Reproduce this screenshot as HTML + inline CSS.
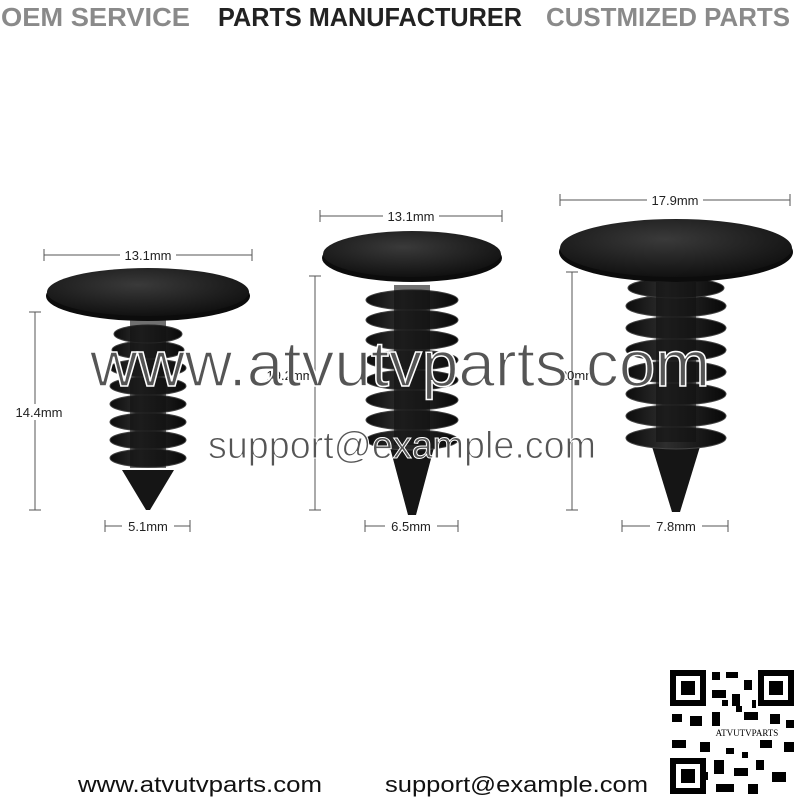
<!DOCTYPE html>
<html><head><meta charset="utf-8"><style>
html,body{margin:0;padding:0;background:#fff;}
svg{display:block;}
</style></head><body>
<svg width="800" height="800" viewBox="0 0 800 800" xmlns="http://www.w3.org/2000/svg" font-family="Liberation Sans, Arial, sans-serif">
<rect width="800" height="800" fill="#fff"/>
<text x="1" y="26" font-size="26" font-weight="bold" fill="#8a8a8a" textLength="189" lengthAdjust="spacingAndGlyphs">OEM SERVICE</text>
<text x="218" y="26" font-size="26" font-weight="bold" fill="#222" textLength="304" lengthAdjust="spacingAndGlyphs">PARTS MANUFACTURER</text>
<text x="546" y="26" font-size="26" font-weight="bold" fill="#8a8a8a" textLength="244" lengthAdjust="spacingAndGlyphs">CUSTMIZED PARTS</text>

<defs>
<radialGradient id="hg" cx="0.45" cy="0.35" r="0.7">
<stop offset="0" stop-color="#3a3a3a"/><stop offset="1" stop-color="#0e0e0e"/></radialGradient>
<linearGradient id="rg" x1="0" x2="1">
<stop offset="0" stop-color="#0c0c0c"/><stop offset="0.4" stop-color="#2e2e2e"/><stop offset="1" stop-color="#080808"/></linearGradient>
</defs>

<g stroke="#555" stroke-width="1" fill="none">
<line x1="44" y1="255" x2="252" y2="255"/><line x1="44" y1="249" x2="44" y2="261"/><line x1="252" y1="249" x2="252" y2="261"/>
<line x1="35" y1="312" x2="35" y2="510"/><line x1="29" y1="312" x2="41" y2="312"/><line x1="29" y1="510" x2="41" y2="510"/>
<line x1="105" y1="526" x2="190" y2="526"/><line x1="105" y1="520" x2="105" y2="532"/><line x1="190" y1="520" x2="190" y2="532"/>
<line x1="320" y1="216" x2="502" y2="216"/><line x1="320" y1="210" x2="320" y2="222"/><line x1="502" y1="210" x2="502" y2="222"/>
<line x1="315" y1="276" x2="315" y2="510"/><line x1="309" y1="276" x2="321" y2="276"/><line x1="309" y1="510" x2="321" y2="510"/>
<line x1="365" y1="526" x2="458" y2="526"/><line x1="365" y1="520" x2="365" y2="532"/><line x1="458" y1="520" x2="458" y2="532"/>
<line x1="560" y1="200" x2="790" y2="200"/><line x1="560" y1="194" x2="560" y2="206"/><line x1="790" y1="194" x2="790" y2="206"/>
<line x1="572" y1="272" x2="572" y2="510"/><line x1="566" y1="272" x2="578" y2="272"/><line x1="566" y1="510" x2="578" y2="510"/>
<line x1="622" y1="526" x2="728" y2="526"/><line x1="622" y1="520" x2="622" y2="532"/><line x1="728" y1="520" x2="728" y2="532"/>
</g>
<g font-size="13" fill="#222" text-anchor="middle">
<rect x="120" y="247" width="56" height="16" fill="#fff"/><text x="148" y="260">13.1mm</text>
<rect x="8" y="404" width="62" height="16" fill="#fff"/><text x="39" y="417">14.4mm</text>
<rect x="122" y="518" width="52" height="16" fill="#fff"/><text x="148" y="531">5.1mm</text>
<rect x="383" y="208" width="56" height="16" fill="#fff"/><text x="411" y="221">13.1mm</text>
<rect x="385" y="518" width="52" height="16" fill="#fff"/><text x="411" y="531">6.5mm</text>
<rect x="647" y="192" width="56" height="16" fill="#fff"/><text x="675" y="205">17.9mm</text>
<rect x="650" y="518" width="52" height="16" fill="#fff"/><text x="676" y="531">7.8mm</text>
</g>

<g>
<polygon points="122,470 174,470 150,510 146,510" fill="#151515"/>
<g fill="url(#rg)" stroke="#444" stroke-width="1">
<ellipse cx="148" cy="458" rx="38" ry="9"/><ellipse cx="148" cy="440" rx="38" ry="9"/>
<ellipse cx="148" cy="422" rx="38" ry="9"/><ellipse cx="148" cy="404" rx="38" ry="9"/>
<ellipse cx="148" cy="386" rx="38" ry="9"/><ellipse cx="148" cy="368" rx="38" ry="9"/>
<ellipse cx="148" cy="350" rx="36" ry="9"/><ellipse cx="148" cy="334" rx="34" ry="9"/>
</g>
<rect x="130" y="318" width="36" height="150" fill="#111" opacity="0.6"/>
<ellipse cx="148" cy="296" rx="102" ry="25" fill="#0c0c0c"/>
<ellipse cx="148" cy="292" rx="101" ry="24" fill="url(#hg)"/>
</g>
<g>
<polygon points="388,440 436,440 416,515 408,515" fill="#151515"/>
<g fill="url(#rg)" stroke="#444" stroke-width="1">
<ellipse cx="412" cy="440" rx="46" ry="10"/><ellipse cx="412" cy="420" rx="46" ry="10"/>
<ellipse cx="412" cy="400" rx="46" ry="10"/><ellipse cx="412" cy="380" rx="46" ry="10"/>
<ellipse cx="412" cy="360" rx="46" ry="10"/><ellipse cx="412" cy="340" rx="46" ry="10"/>
<ellipse cx="412" cy="320" rx="46" ry="10"/><ellipse cx="412" cy="300" rx="46" ry="10"/>
</g>
<rect x="394" y="285" width="36" height="160" fill="#111" opacity="0.6"/>
<ellipse cx="412" cy="258" rx="90" ry="24" fill="#0c0c0c"/>
<ellipse cx="412" cy="254" rx="89" ry="23" fill="url(#hg)"/>
</g>
<g>
<polygon points="650,440 702,440 680,512 672,512" fill="#151515"/>
<g fill="url(#rg)" stroke="#444" stroke-width="1">
<ellipse cx="676" cy="438" rx="50" ry="11"/><ellipse cx="676" cy="416" rx="50" ry="11"/>
<ellipse cx="676" cy="394" rx="50" ry="11"/><ellipse cx="676" cy="372" rx="50" ry="11"/>
<ellipse cx="676" cy="350" rx="50" ry="11"/><ellipse cx="676" cy="328" rx="50" ry="11"/>
<ellipse cx="676" cy="306" rx="50" ry="11"/><ellipse cx="676" cy="288" rx="48" ry="10"/>
</g>
<rect x="656" y="282" width="40" height="160" fill="#111" opacity="0.6"/>
<ellipse cx="676" cy="252" rx="117" ry="30" fill="#0c0c0c"/>
<ellipse cx="676" cy="248" rx="116" ry="29" fill="url(#hg)"/>
</g>

<g font-size="13" fill="#222" text-anchor="middle">
<text x="290" y="380">19.2mm</text>
<text x="578" y="380">20mm</text>
</g>
<text x="90" y="386" font-size="64" fill="#555" stroke="#fff" stroke-width="1.5" textLength="620" lengthAdjust="spacingAndGlyphs">www.atvutvparts.com</text>
<text x="208" y="458" font-size="38" fill="#555" stroke="#fff" stroke-width="1" textLength="388" lengthAdjust="spacingAndGlyphs">support@example.com</text>

<text x="78" y="792" font-size="22" fill="#111" textLength="244" lengthAdjust="spacingAndGlyphs">www.atvutvparts.com</text>
<text x="385" y="792" font-size="22" fill="#111" textLength="263" lengthAdjust="spacingAndGlyphs">support@example.com</text>

<g fill="#000">
<rect x="668" y="668" width="128" height="128" fill="#fff"/>
<rect x="670" y="670" width="36" height="36"/><rect x="676" y="676" width="24" height="24" fill="#fff"/><rect x="681" y="681" width="14" height="14"/>
<rect x="758" y="670" width="36" height="36"/><rect x="764" y="676" width="24" height="24" fill="#fff"/><rect x="769" y="681" width="14" height="14"/>
<rect x="670" y="758" width="36" height="36"/><rect x="676" y="764" width="24" height="24" fill="#fff"/><rect x="681" y="769" width="14" height="14"/>
<rect x="712" y="672" width="8" height="8"/><rect x="726" y="672" width="12" height="6"/><rect x="744" y="680" width="8" height="10"/>
<rect x="712" y="690" width="14" height="8"/><rect x="732" y="694" width="8" height="12"/>
<rect x="672" y="714" width="10" height="8"/><rect x="690" y="716" width="12" height="10"/><rect x="712" y="712" width="8" height="14"/>
<rect x="744" y="712" width="14" height="8"/><rect x="770" y="714" width="10" height="10"/><rect x="786" y="720" width="8" height="8"/>
<rect x="672" y="740" width="14" height="8"/><rect x="700" y="742" width="10" height="10"/><rect x="760" y="740" width="12" height="8"/><rect x="784" y="742" width="10" height="10"/>
<rect x="714" y="760" width="10" height="14"/><rect x="734" y="768" width="14" height="8"/><rect x="756" y="760" width="8" height="10"/>
<rect x="772" y="772" width="14" height="10"/><rect x="716" y="784" width="18" height="8"/><rect x="748" y="784" width="10" height="10"/>
<rect x="722" y="700" width="6" height="6"/><rect x="736" y="706" width="6" height="6"/><rect x="752" y="700" width="4" height="8"/>
<rect x="726" y="748" width="8" height="6"/><rect x="742" y="752" width="6" height="6"/><rect x="700" y="772" width="8" height="8"/>
<rect x="704" y="728" width="86" height="10" fill="#fff"/>
<text x="747" y="736" font-size="9" font-family="Liberation Serif, serif" text-anchor="middle" fill="#000">ATVUTVPARTS</text>
</g>
</svg>
</body></html>
